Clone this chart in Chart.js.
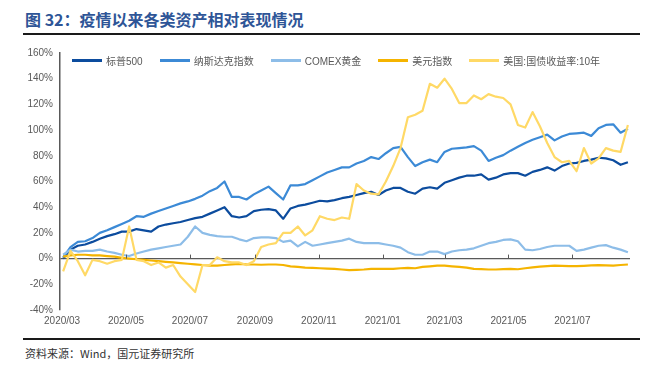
<!DOCTYPE html>
<html>
<head>
<meta charset="utf-8">
<script src="https://cdn.jsdelivr.net/npm/chart.js@4.4.0/dist/chart.umd.min.js"></script>
<style>
  html, body { margin: 0; padding: 0; background: #fff; }
  body { position: relative; width: 663px; height: 368px; overflow: hidden; font-family: 'Liberation Sans', 'Noto Sans CJK SC', sans-serif; }
  #title { position: absolute; left: 25px; top: 8px; font-family: 'Noto Sans CJK SC', sans-serif; font-weight: bold; font-size: 16px; color: #2e5597; white-space: nowrap; line-height: 22px; }
  .rule { position: absolute; left: 23px; width: 617px; height: 2px; background: #1a1a1a; }
  #chartBox { position: absolute; left: 0; top: 40px; width: 663px; height: 295px; }
  #legend { position: absolute; left: 72px; top: 53px; display: flex; align-items: center; z-index: 2; font-size: 10px; color: #595959; white-space: nowrap; }
  #legend .item { display: flex; align-items: center; margin-right: 17px; }
  #legend .swatch { width: 30px; height: 3px; margin-right: 4px; }
  #source { position: absolute; left: 25px; top: 345px; font-family: 'Noto Sans CJK SC', sans-serif; font-size: 11px; color: #333; white-space: nowrap; }
</style>
</head>
<body>
<div id="title">图 32：疫情以来各类资产相对表现情况</div>
<div class="rule" style="top:33px"></div>
<div id="chartBox"><canvas id="assetChart"></canvas></div>
<div id="legend"></div>
<div class="rule" style="top:338px"></div>
<div id="source">资料来源：Wind，国元证券研究所</div>
<script>
var SERIES_NAMES = ['标普500', '纳斯达克指数', 'COMEX黄金', '美元指数', '美国:国债收益率:10年'];
var COLORS = ['#0c4c9e', '#3c8ad6', '#8dbde8', '#f5b400', '#ffd966'];

// weekly readings, % change since the start of the window
var DATES = [
  '2020-03-02', '2020-03-09', '2020-03-16', '2020-03-23', '2020-03-30',
  '2020-04-06', '2020-04-13', '2020-04-20', '2020-04-27',
  '2020-05-04', '2020-05-11', '2020-05-18', '2020-05-25',
  '2020-06-01', '2020-06-08', '2020-06-15', '2020-06-22', '2020-06-29',
  '2020-07-06', '2020-07-13', '2020-07-20', '2020-07-27',
  '2020-08-03', '2020-08-10', '2020-08-17', '2020-08-24', '2020-08-31',
  '2020-09-07', '2020-09-14', '2020-09-21', '2020-09-28',
  '2020-10-05', '2020-10-12', '2020-10-19', '2020-10-26',
  '2020-11-02', '2020-11-09', '2020-11-16', '2020-11-23', '2020-11-30',
  '2020-12-07', '2020-12-14', '2020-12-21', '2020-12-28',
  '2021-01-04', '2021-01-11', '2021-01-18', '2021-01-25',
  '2021-02-01', '2021-02-08', '2021-02-15', '2021-02-22',
  '2021-03-01', '2021-03-08', '2021-03-15', '2021-03-22', '2021-03-29',
  '2021-04-05', '2021-04-12', '2021-04-19', '2021-04-26',
  '2021-05-03', '2021-05-10', '2021-05-17', '2021-05-24', '2021-05-31',
  '2021-06-07', '2021-06-14', '2021-06-21', '2021-06-28',
  '2021-07-05', '2021-07-12', '2021-07-19', '2021-07-26',
  '2021-08-02', '2021-08-09', '2021-08-16', '2021-08-23'
];
var SP500 = [0, 7, 10, 11, 13, 15.5, 17.5, 19, 21, 21, 23, 22, 21, 25, 26.5, 27.5, 28.5, 30, 31.5, 32.5,
  35, 37.5, 40, 33, 32, 33, 37, 38, 38.5, 37.5, 31, 39, 41, 42, 43.5, 45, 44.5, 45.5, 47, 48,
  49.5, 51, 52, 49.5, 53, 55, 55, 52, 50.5, 54.5, 55.5, 54.5, 59, 61, 63, 64.5, 64.5, 65.5, 61.5, 63,
  65.5, 66.5, 66.5, 64.5, 67.5, 69, 71, 68.5, 72, 74, 74.5, 76, 77, 78.5, 78, 76.5, 73, 75];
var NASDAQ = [1, 9, 13, 13.5, 16, 20, 22, 24.5, 27, 29.5, 33, 32.5, 35, 37, 39, 41, 43, 44.5, 46.5, 49,
  52.5, 55, 60, 48, 48, 46, 50, 53, 56, 51, 46, 57, 57, 58, 61, 64, 67, 69, 71, 71,
  74, 76, 79, 77.5, 82, 86, 87, 79, 72, 75, 77, 75, 83, 85.5, 86, 86.5, 87.5, 84, 76, 78.5,
  80.5, 84, 87, 90, 92.5, 94.5, 96.5, 92, 95, 97, 97.5, 98, 95.5, 101.5, 104, 104.5, 98, 101];
var GOLD = [3, 7, 5.5, 6, 6, 7, 5.5, 4.5, 3, 2, 4, 5.5, 7, 8, 9, 10, 11, 17, 25, 20,
  18.5, 17.5, 17, 17, 15, 13.5, 16, 16.5, 16.5, 16, 13, 14, 9.5, 13, 10, 11, 12, 13, 14, 15.5,
  13, 12, 12, 12, 11, 10, 8.5, 5, 3, 3, 5.5, 5.5, 3.5, 5.5, 6.5, 7, 8, 10, 12, 13,
  14.5, 15, 13.5, 7, 6.5, 7.5, 9, 10, 10, 10, 6, 7, 8.5, 10, 10.5, 8.5, 7, 5];
var USD = [1.5, 2.5, 3, 3, 2.5, 2.5, 2, 1.5, 0.5, 0, -0.5, -1, -1.5, -2, -2.5, -3, -3.5, -4, -4.5, -5,
  -5.5, -5.5, -5, -4.5, -4.2, -4.5, -4.6, -4.8, -4.6, -4.6, -5, -6, -6.5, -7, -7.2, -7.5, -7.8, -8, -8.5, -9,
  -8.8, -8.5, -8, -8, -8, -8, -7.5, -7.2, -7.5, -6.5, -6, -5.5, -5.5, -6, -6.5, -7, -8, -8.2, -8.5, -8.5,
  -8.2, -8, -8.3, -7.5, -6.8, -6.3, -5.8, -5.4, -5.6, -5.8, -5.9, -5.6, -5.3, -5.1, -5.3, -5.4, -5, -4.6];
var UST10Y = [-10, 6, -2, -13, -1, -2, -4, -2, -1, 25, -1, -2, -5, -3, -7, -5, -14, -20, -26, -5,
  -5, 1, -2, -3, -3, -5, -2, 9, 11, 12, 20, 20, 25, 18, 22, 33, 31, 30, 32, 31,
  58, 53, 50.5, 50, 60, 72, 86, 110, 112, 115, 136, 133, 140, 132, 121, 121, 127, 124, 128, 126,
  125, 120, 104, 102, 114, 103, 90, 79, 75, 76, 68, 86, 74, 78, 86, 84, 83, 104];

var TICK_DATES = ['2020-03-01', '2020-05-01', '2020-07-01', '2020-09-01', '2020-11-01',
  '2021-01-01', '2021-03-01', '2021-05-01', '2021-07-01'];
var TICK_LABELS = ['2020/03', '2020/05', '2020/07', '2020/09', '2020/11',
  '2021/01', '2021/03', '2021/05', '2021/07'];
var X_FIRST = '2020-02-28';
var X_LAST = '2021-08-25';
var Y_MIN = -40;
var Y_MAX = 160;
var Y_STEP = 20;

(function () {
  'use strict';

  var BASE = Date.parse('2020-03-01');
  function dayOf(s) { return Math.round((Date.parse(s) - BASE) / 86400000); }

  function toPoints(values) {
    return values.map(function (v, i) { return { x: dayOf(DATES[i]), y: v }; });
  }

  function buildLegend() {
    var box = document.getElementById('legend');
    SERIES_NAMES.forEach(function (name, i) {
      var item = document.createElement('div');
      item.className = 'item';
      var sw = document.createElement('span');
      sw.className = 'swatch';
      sw.style.background = COLORS[i];
      var txt = document.createElement('span');
      txt.textContent = name;
      item.appendChild(sw);
      item.appendChild(txt);
      box.appendChild(item);
    });
  }

  // small upward tick marks on the 0% line, like the source chart
  var zeroTicks = {
    id: 'zeroTicks',
    afterDatasetsDraw: function (chart) {
      var xs = chart.scales.x, ys = chart.scales.y, ctx = chart.ctx;
      var py = ys.getPixelForValue(0);
      ctx.save();
      ctx.strokeStyle = '#595959';
      ctx.lineWidth = 1;
      TICK_DATES.slice(1).forEach(function (d) {
        var px = Math.round(xs.getPixelForValue(dayOf(d))) + 0.5;
        ctx.beginPath();
        ctx.moveTo(px, py);
        ctx.lineTo(px, py - 4);
        ctx.stroke();
      });
      ctx.restore();
    }
  };

  var series = [SP500, NASDAQ, GOLD, USD, UST10Y];
  var datasets = series.map(function (vals, i) {
    return {
      label: SERIES_NAMES[i],
      data: toPoints(vals),
      borderColor: COLORS[i],
      backgroundColor: COLORS[i],
      borderWidth: 2.2,
      pointRadius: 0,
      tension: 0,
      fill: false,
      borderJoinStyle: 'round',
      order: series.length - i
    };
  });

  Chart.defaults.font.family = "'Liberation Sans', Arial, sans-serif";
  Chart.defaults.font.size = 10;
  Chart.defaults.color = '#595959';

  buildLegend();

  new Chart(document.getElementById('assetChart'), {
    type: 'line',
    data: { datasets: datasets },
    plugins: [zeroTicks],
    options: {
      responsive: true,
      maintainAspectRatio: false,
      animation: false,
      devicePixelRatio: 1,
      layout: { padding: { top: 11, right: 33, left: 0, bottom: 0 } },
      plugins: { legend: { display: false }, tooltip: { enabled: false } },
      scales: {
        x: {
          type: 'linear',
          min: dayOf(X_FIRST),
          max: dayOf(X_LAST),
          afterBuildTicks: function (scale) {
            scale.ticks = TICK_DATES.map(function (d) { return { value: dayOf(d) }; });
          },
          afterFit: function (scale) { scale.height = 25; },
          ticks: {
            autoSkip: false,
            maxRotation: 0,
            padding: 5,
            color: '#595959',
            callback: function (v, idx) { return TICK_LABELS[idx]; }
          },
          grid: { display: false, drawTicks: false },
          border: { display: false }
        },
        y: {
          min: Y_MIN,
          max: Y_MAX,
          afterFit: function (scale) { scale.width = 60; },
          ticks: {
            stepSize: Y_STEP,
            padding: 7,
            color: '#595959',
            callback: function (v) { return v + '%'; }
          },
          grid: {
            drawTicks: false,
            color: function (c) { return c.tick && c.tick.value === 0 ? '#595959' : 'rgba(0,0,0,0)'; },
            lineWidth: 1.3
          },
          border: { display: true, color: '#595959', width: 1.5 }
        }
      }
    }
  });
})();
</script>
</body>
</html>
